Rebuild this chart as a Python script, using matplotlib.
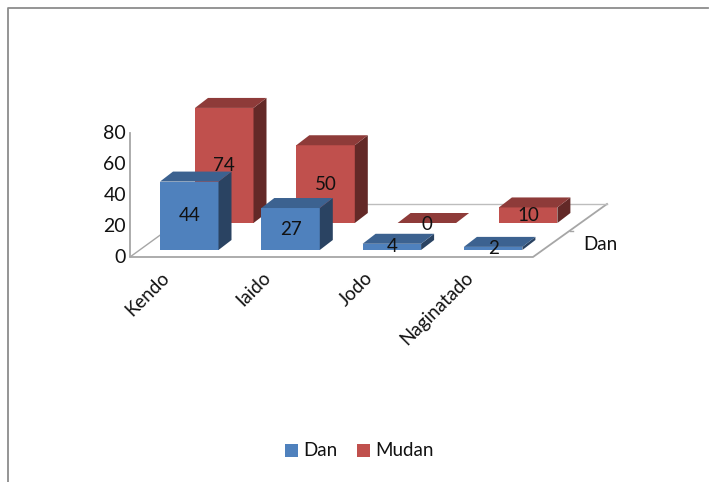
import matplotlib
matplotlib.use("Agg")
import matplotlib.pyplot as plt
from matplotlib.patches import Polygon, Rectangle

categories = ["Kendo", "Iaido", "Jodo", "Naginatado"]
dan_values = [44, 27, 4, 2]
mudan_values = [74, 50, 0, 10]
y_ticks = [0, 20, 40, 60, 80]
series_names = ["Dan", "Mudan"]

plt.rcParams["font.family"] = ["Lato", "DejaVu Sans"]

FRONT = ["#4F81BD", "#C0504D"]
TOP = ["#3C6290", "#8E3B39"]
SIDE = ["#2A4362", "#632927"]
TXT = "#111111"
FS = 13.5

# oblique projection, everything in pixels of the final image
X0, Y0 = 160, 250
STEP = 101.3
SER_DX, SER_DY = 35, -27
BAR_W = 58.5
DEP_X, DEP_Y = 13, -10
UNIT = 1.555

fig = plt.figure(figsize=(7.09, 4.82), dpi=100)
ax = fig.add_axes([0, 0, 1, 1])
ax.set_xlim(0, 709)
ax.set_ylim(482, 0)
ax.axis("off")


def draw_bar(i, s, v):
    x = X0 + STEP * i + SER_DX * s
    yb = Y0 + SER_DY * s
    yt = yb - UNIT * v
    r = x + BAR_W
    if v > 0:
        ax.add_patch(Polygon([(x, yb), (r, yb), (r, yt), (x, yt)], fc=FRONT[s], ec="none", zorder=3))
        ax.add_patch(Polygon([(r, yb), (r + DEP_X, yb + DEP_Y), (r + DEP_X, yt + DEP_Y), (r, yt)],
                             fc=SIDE[s], ec="none", zorder=3))
    ax.add_patch(Polygon([(x, yt), (r, yt), (r + DEP_X, yt + DEP_Y), (x + DEP_X, yt + DEP_Y)],
                         fc=TOP[s], ec="none", zorder=3))
    ax.text(x + BAR_W / 2, (yb + yt) / 2 + (1 if v == 0 else 0), str(v), ha="center", va="center",
            fontsize=FS, color=TXT, zorder=6)


# chart frame
ax.plot([8, 8, 708], [482, 8, 8], color="#8c8c8c", lw=1.3, zorder=1)

# floor and wall
ax.plot([130, 130, 533, 607], [133, 257, 257, 204], color="#a6a6a6", lw=1.3, zorder=2)
ax.plot([130, 203], [257, 204], color="#a6a6a6", lw=1.0, zorder=2)
ax.plot([203, 607], [204, 204], color="#bdbdbd", lw=1.0, zorder=2)
ax.plot([570, 573], [231, 231], color="#a6a6a6", lw=1.0, zorder=2)

# back series first so the front one covers it
for i, v in enumerate(mudan_values):
    draw_bar(i, 1, v)
for i, v in enumerate(dan_values):
    draw_bar(i, 0, v)

for t in y_ticks:
    ax.text(126, 257.5 - 1.55 * t, str(t), ha="right", va="center", fontsize=FS + 0.5, color=TXT)

for i, c in enumerate(categories):
    ax.text(X0 + STEP * i + 1, 269, c, rotation=45, ha="right", va="top",
            rotation_mode="anchor", fontsize=FS, color=TXT)

ax.text(600, 244, series_names[0], ha="center", va="center", fontsize=FS, color=TXT)

# legend
ax.add_patch(Rectangle((285, 444), 13, 13, fc=FRONT[0], ec="none"))
ax.text(303, 450.5, series_names[0], ha="left", va="center", fontsize=FS, color=TXT)
ax.add_patch(Rectangle((357, 444), 13, 13, fc=FRONT[1], ec="none"))
ax.text(375, 450.5, series_names[1], ha="left", va="center", fontsize=FS, color=TXT)

fig.savefig("out.png", dpi=100)
